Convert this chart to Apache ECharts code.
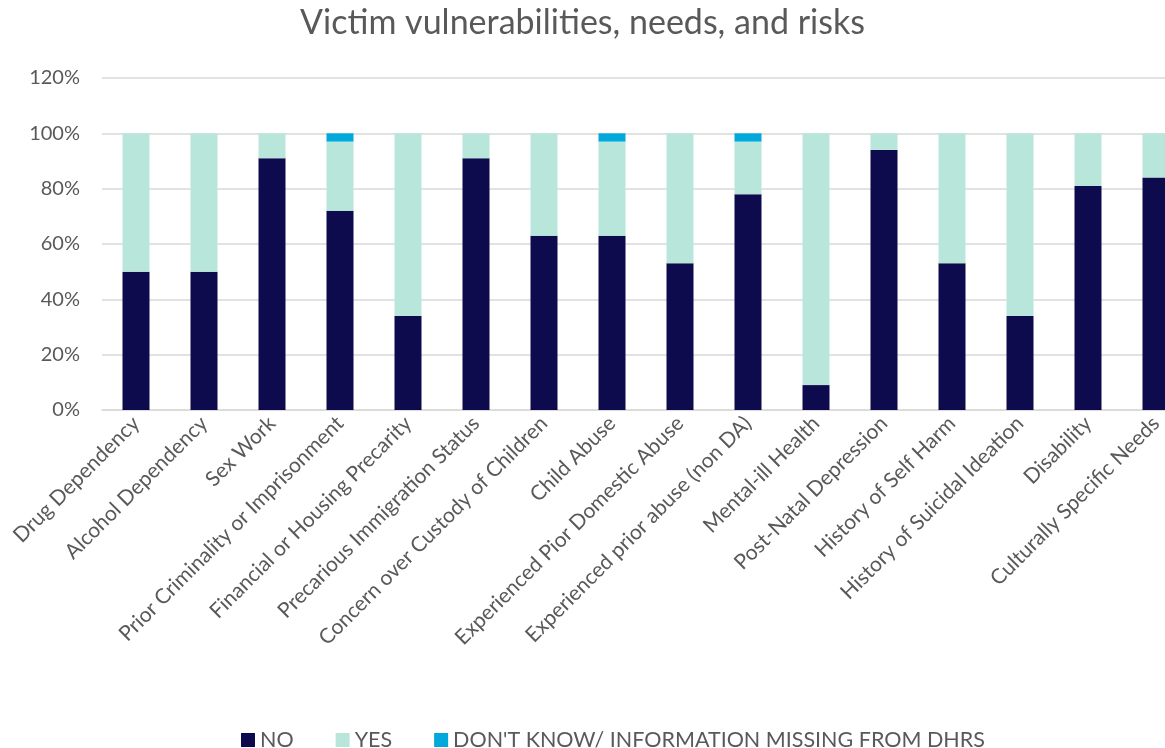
<!DOCTYPE html>
<html>
<head>
<meta charset="utf-8">
<script src="https://cdn.jsdelivr.net/npm/echarts@6/dist/echarts.min.js"></script>
<style>html,body{margin:0;padding:0;background:#fff;overflow:hidden}#c{width:1165px;height:748px}</style>
</head>
<body>
<div id="c"></div>
<script>
const categories = ["Drug Dependency","Alcohol Dependency","Sex Work","Prior Criminality or Imprisonment","Financial or Housing Precarity","Precarious Immigration Status","Concern over Custody of Children","Child Abuse","Experienced Pior Domestic Abuse","Experienced prior abuse (non DA)","Mental-ill Health","Post-Natal Depression","History of Self Harm","History of Suicidal Ideation","Disability","Culturally Specific Needs"];
const noValues  = [50,50,91,72,34,91,63,63,53,78, 9,94,53,34,81,84];
const yesValues = [50,50, 9,25,66, 9,37,34,47,19,91, 6,47,66,19,16];
const dkValues  = [ 0, 0, 0, 3, 0, 0, 0, 3, 0, 3, 0, 0, 0, 0, 0, 0];
const seriesNames = ["NO","YES","DON'T KNOW/ INFORMATION MISSING FROM DHRS"];
const yTicks = [0,20,40,60,80,100,120];

const font = "Lato, 'Open Sans', sans-serif";
const txt = "#595959";
const colors = ["#0E0A4E","#B9E6DB","#00A8DC"];
const chart = echarts.init(document.getElementById('c'));
chart.setOption({
  animation:false,
  title:{text:"Victim vulnerabilities, needs, and risks",left:'center',top:1,
    textStyle:{fontFamily:font,fontSize:34,fontWeight:'normal',color:txt}},
  legend:{left:236,top:724,itemWidth:14,itemHeight:14,itemGap:42,
    icon:'rect',textStyle:{fontFamily:font,fontSize:21.5,color:txt},
    data:seriesNames},
  grid:{left:102,top:78,bottom:338,right:-25,containLabel:false,outerBoundsMode:'none'},
  xAxis:{type:'category',data:categories,
    axisLine:{show:true,lineStyle:{color:'#D9D9D9',width:1.5}},
    axisTick:{show:false},
    axisLabel:{rotate:45,interval:0,margin:10,fontFamily:font,fontSize:21,color:txt}},
  yAxis:{type:'value',min:yTicks[0],max:yTicks[yTicks.length-1],interval:20,
    axisLine:{show:false},axisTick:{show:false},
    splitLine:{lineStyle:{color:'#D9D9D9',width:1.5}},
    axisLabel:{formatter:v=>v+'%',margin:22,fontFamily:font,fontSize:20,color:txt}},
  series:[
    {name:seriesNames[0],type:'bar',stack:'s',data:noValues,barWidth:27,itemStyle:{color:colors[0]}},
    {name:seriesNames[1],type:'bar',stack:'s',data:yesValues,barWidth:27,itemStyle:{color:colors[1]}},
    {name:seriesNames[2],type:'bar',stack:'s',data:dkValues,barWidth:27,itemStyle:{color:colors[2]}}
  ]
});
</script>
</body>
</html>
